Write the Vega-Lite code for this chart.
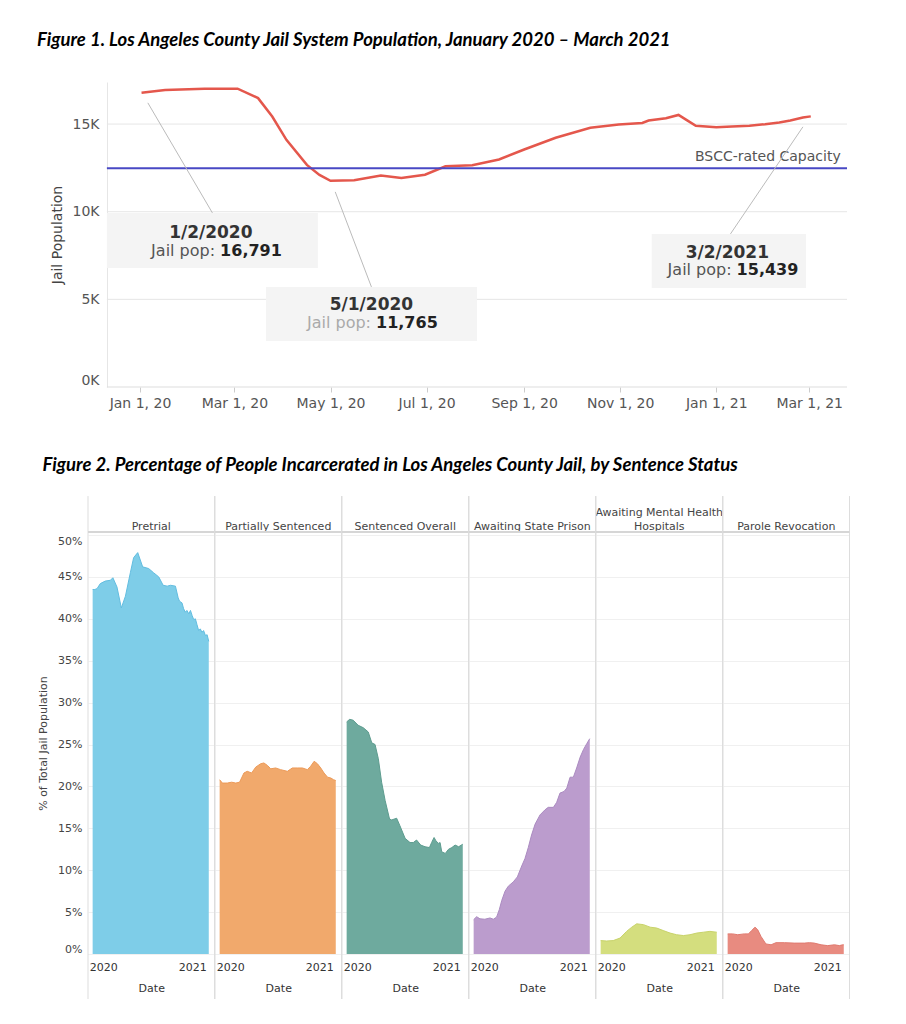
{
  "$schema": "https://vega.github.io/schema/vega-lite/v6.json",
  "padding": {"left": 37, "top": 30, "right": 5, "bottom": 5},
  "columns": 1,
  "align": "none",
  "spacing": 46,
  "config": {"view": {"stroke": null}, "font": "DejaVu Sans"},
  "concat": [
    {
      "width": 759,
      "height": 305,
      "title": {"text": "Figure 1. Los Angeles County Jail System Population, January 2020 – March 2021", "anchor": "start", "frame": "bounds", "dx": -13, "offset": 33, "font": "Lato", "fontSize": 18.5, "fontWeight": "bold", "fontStyle": "italic", "color": "#000000"},
      "layer": [
        {
          "data": {"values": [{"label": "BSCC-rated Capacity", "capacity": 12480}]},
          "layer": [
            {"mark": {"type": "rule", "color": "#e6e6e6", "strokeWidth": 1},
             "encoding": {"x": {"datum": {"year": 2019, "month": 12, "date": 11}, "type": "temporal"}, "x2": {"datum": {"year": 2021, "month": 3, "date": 25}}, "y": {"datum": 5000, "type": "quantitative"}}},
            {"mark": {"type": "rule", "color": "#e6e6e6", "strokeWidth": 1},
             "encoding": {"x": {"datum": {"year": 2019, "month": 12, "date": 11}, "type": "temporal"}, "x2": {"datum": {"year": 2021, "month": 3, "date": 25}}, "y": {"datum": 10000, "type": "quantitative"}}},
            {"mark": {"type": "rule", "color": "#e6e6e6", "strokeWidth": 1},
             "encoding": {"x": {"datum": {"year": 2019, "month": 12, "date": 11}, "type": "temporal"}, "x2": {"datum": {"year": 2021, "month": 3, "date": 25}}, "y": {"datum": 15000, "type": "quantitative"}}},
            {"mark": {"type": "rule", "color": "#dddddd", "strokeWidth": 1},
             "encoding": {"x": {"datum": {"year": 2019, "month": 12, "date": 11}, "type": "temporal"}, "x2": {"datum": {"year": 2021, "month": 3, "date": 25}}, "y": {"datum": 0, "type": "quantitative"}}}
          ]
        },
        {
          "data": {"values": [
            {"date": "2020-01-02", "pop": 16791},
            {"date": "2020-01-17", "pop": 16950},
            {"date": "2020-02-11", "pop": 17010},
            {"date": "2020-03-03", "pop": 17020},
            {"date": "2020-03-16", "pop": 16480},
            {"date": "2020-03-25", "pop": 15430},
            {"date": "2020-04-03", "pop": 14100},
            {"date": "2020-04-16", "pop": 12670},
            {"date": "2020-04-24", "pop": 12100},
            {"date": "2020-05-01", "pop": 11765},
            {"date": "2020-05-16", "pop": 11790},
            {"date": "2020-06-02", "pop": 12060},
            {"date": "2020-06-15", "pop": 11930},
            {"date": "2020-06-30", "pop": 12110},
            {"date": "2020-07-13", "pop": 12590},
            {"date": "2020-07-30", "pop": 12650},
            {"date": "2020-08-16", "pop": 12980},
            {"date": "2020-09-01", "pop": 13550},
            {"date": "2020-09-21", "pop": 14220},
            {"date": "2020-10-13", "pop": 14790},
            {"date": "2020-10-31", "pop": 14980},
            {"date": "2020-11-15", "pop": 15060},
            {"date": "2020-11-19", "pop": 15200},
            {"date": "2020-11-30", "pop": 15330},
            {"date": "2020-12-08", "pop": 15520},
            {"date": "2020-12-13", "pop": 15240},
            {"date": "2020-12-19", "pop": 14900},
            {"date": "2021-01-01", "pop": 14820},
            {"date": "2021-01-11", "pop": 14860},
            {"date": "2021-01-22", "pop": 14900},
            {"date": "2021-02-01", "pop": 14990},
            {"date": "2021-02-10", "pop": 15090},
            {"date": "2021-02-17", "pop": 15200},
            {"date": "2021-02-25", "pop": 15370},
            {"date": "2021-03-02", "pop": 15439}
          ], "format": {"parse": {"date": "date:'%Y-%m-%d'"}}},
          "mark": {"type": "line", "color": "#e4574c", "strokeWidth": 2.5},
          "encoding": {
            "x": {"field": "date", "type": "temporal",
              "scale": {"domain": [{"year": 2019, "month": 11, "date": 29}, {"year": 2021, "month": 3, "date": 25}], "nice": false},
              "axis": {"title": null, "values": [
                {"year": 2020, "month": 1, "date": 1}, {"year": 2020, "month": 3, "date": 1}, {"year": 2020, "month": 5, "date": 1}, {"year": 2020, "month": 7, "date": 1},
                {"year": 2020, "month": 9, "date": 1}, {"year": 2020, "month": 11, "date": 1}, {"year": 2021, "month": 1, "date": 1}, {"year": 2021, "month": 3, "date": 1}],
                "format": "%b %-d, %y", "labelFont": "DejaVu Sans", "labelFontSize": 14, "labelColor": "#555555", "tickColor": "#cccccc", "tickSize": 5, "labelPadding": 4, "domain": false, "grid": false}},
            "y": {"field": "pop", "type": "quantitative",
              "scale": {"domain": [0, 17400], "nice": false},
              "axis": {"title": "Jail Population", "values": [0, 5000, 10000, 15000], "labelExpr": "datum.value / 1000 + 'K'", "offset": -19,
                "labelFont": "DejaVu Sans", "labelFontSize": 14, "labelColor": "#555555", "labelPadding": 8, "labelFlush": true,
                "ticks": false, "domainColor": "#e6e6e6", "grid": false,
                "titleFont": "DejaVu Sans", "titleFontSize": 14, "titleFontWeight": "normal", "titleColor": "#444444", "titlePadding": 8}}
          }
        },
        {
          "data": {"values": [{"label": "BSCC-rated Capacity", "capacity": 12480}]},
          "layer": [
            {"mark": {"type": "rule", "color": "#4848c4", "strokeWidth": 2},
             "encoding": {"x": {"datum": {"year": 2019, "month": 12, "date": 11}, "type": "temporal"}, "x2": {"datum": {"year": 2021, "month": 3, "date": 25}}, "y": {"field": "capacity", "type": "quantitative"}}},
            {"mark": {"type": "text", "align": "right", "baseline": "bottom", "dy": -4, "font": "DejaVu Sans", "fontSize": 14, "color": "#555555"},
             "encoding": {"x": {"datum": {"year": 2021, "month": 3, "date": 21}, "type": "temporal"}, "y": {"field": "capacity", "type": "quantitative"}, "text": {"field": "label"}}}
          ]
        },
        {
          "data": {"values": [{"date": "2020-01-02", "pop": 16791}], "format": {"parse": {"date": "date:'%Y-%m-%d'"}}},
          "layer": [
            {"mark": {"type": "rule", "color": "#bbbbbb", "strokeWidth": 1},
             "encoding": {"x": {"datum": {"year": 2020, "month": 1, "date": 6}, "type": "temporal"}, "y": {"datum": 16211, "type": "quantitative"},
                          "x2": {"datum": {"year": 2020, "month": 2, "date": 16}}, "y2": {"datum": 9932}}},
            {"mark": {"type": "rect", "color": "#f4f4f4"},
             "encoding": {"x": {"datum": {"year": 2019, "month": 12, "date": 11}, "type": "temporal"}, "x2": {"datum": {"year": 2020, "month": 4, "date": 23}},
                          "y": {"datum": 9932, "type": "quantitative"}, "y2": {"datum": 6793}}},
            {"mark": {"type": "text", "font": "DejaVu Sans", "fontSize": 17, "fontWeight": "bold", "color": "#333333", "baseline": "middle"},
             "encoding": {"x": {"datum": {"year": 2020, "month": 2, "date": 15}, "type": "temporal"}, "y": {"datum": 8790, "type": "quantitative"},
                          "text": {"field": "date", "type": "temporal", "format": "%-m/%-d/%Y"}}},
            {"mark": {"type": "text", "font": "DejaVu Sans", "fontSize": 16, "color": "#555555", "align": "right", "baseline": "middle", "dx": -2},
             "encoding": {"x": {"datum": {"year": 2020, "month": 2, "date": 19}, "type": "temporal"}, "y": {"datum": 7763, "type": "quantitative"},
                          "text": {"value": "Jail pop:"}}},
            {"mark": {"type": "text", "font": "DejaVu Sans", "fontSize": 16, "fontWeight": "bold", "color": "#222222", "align": "left", "baseline": "middle", "dx": 3},
             "encoding": {"x": {"datum": {"year": 2020, "month": 2, "date": 19}, "type": "temporal"}, "y": {"datum": 7763, "type": "quantitative"},
                          "text": {"field": "pop", "type": "quantitative", "format": ","}}}
          ]
        },
        {
          "data": {"values": [{"date": "2020-05-01", "pop": 11765}], "format": {"parse": {"date": "date:'%Y-%m-%d'"}}},
          "layer": [
            {"mark": {"type": "rule", "color": "#bbbbbb", "strokeWidth": 1},
             "encoding": {"x": {"datum": {"year": 2020, "month": 5, "date": 4}, "type": "temporal"}, "y": {"datum": 11131, "type": "quantitative"},
                          "x2": {"datum": {"year": 2020, "month": 5, "date": 27}}, "y2": {"datum": 5708}}},
            {"mark": {"type": "rect", "color": "#f4f4f4"},
             "encoding": {"x": {"datum": {"year": 2020, "month": 3, "date": 21}, "type": "temporal"}, "x2": {"datum": {"year": 2020, "month": 8, "date": 2}},
                          "y": {"datum": 5708, "type": "quantitative"}, "y2": {"datum": 2626}}},
            {"mark": {"type": "text", "font": "DejaVu Sans", "fontSize": 17, "fontWeight": "bold", "color": "#333333", "baseline": "middle"},
             "encoding": {"x": {"datum": {"year": 2020, "month": 5, "date": 27}, "type": "temporal"}, "y": {"datum": 4681, "type": "quantitative"},
                          "text": {"field": "date", "type": "temporal", "format": "%-m/%-d/%Y"}}},
            {"mark": {"type": "text", "font": "DejaVu Sans", "fontSize": 16, "color": "#aaaaaa", "align": "right", "baseline": "middle", "dx": -2},
             "encoding": {"x": {"datum": {"year": 2020, "month": 5, "date": 28}, "type": "temporal"}, "y": {"datum": 3653, "type": "quantitative"},
                          "text": {"value": "Jail pop:"}}},
            {"mark": {"type": "text", "font": "DejaVu Sans", "fontSize": 16, "fontWeight": "bold", "color": "#222222", "align": "left", "baseline": "middle", "dx": 3},
             "encoding": {"x": {"datum": {"year": 2020, "month": 5, "date": 28}, "type": "temporal"}, "y": {"datum": 3653, "type": "quantitative"},
                          "text": {"field": "pop", "type": "quantitative", "format": ","}}}
          ]
        },
        {
          "data": {"values": [{"date": "2021-03-02", "pop": 15439}], "format": {"parse": {"date": "date:'%Y-%m-%d'"}}},
          "layer": [
            {"mark": {"type": "rule", "color": "#bbbbbb", "strokeWidth": 1},
             "encoding": {"x": {"datum": {"year": 2021, "month": 2, "date": 25}, "type": "temporal"}, "y": {"datum": 14841, "type": "quantitative"},
                          "x2": {"datum": {"year": 2021, "month": 1, "date": 10}}, "y2": {"datum": 8733}}},
            {"mark": {"type": "rect", "color": "#f4f4f4"},
             "encoding": {"x": {"datum": {"year": 2020, "month": 11, "date": 21}, "type": "temporal"}, "x2": {"datum": {"year": 2021, "month": 2, "date": 27}},
                          "y": {"datum": 8733, "type": "quantitative"}, "y2": {"datum": 5651}}},
            {"mark": {"type": "text", "font": "DejaVu Sans", "fontSize": 17, "fontWeight": "bold", "color": "#333333", "baseline": "middle"},
             "encoding": {"x": {"datum": {"year": 2021, "month": 1, "date": 8}, "type": "temporal"}, "y": {"datum": 7649, "type": "quantitative"},
                          "text": {"field": "date", "type": "temporal", "format": "%-m/%-d/%Y"}}},
            {"mark": {"type": "text", "font": "DejaVu Sans", "fontSize": 16, "color": "#555555", "align": "right", "baseline": "middle", "dx": -2},
             "encoding": {"x": {"datum": {"year": 2021, "month": 1, "date": 12}, "type": "temporal"}, "y": {"datum": 6678, "type": "quantitative"},
                          "text": {"value": "Jail pop:"}}},
            {"mark": {"type": "text", "font": "DejaVu Sans", "fontSize": 16, "fontWeight": "bold", "color": "#222222", "align": "left", "baseline": "middle", "dx": 3},
             "encoding": {"x": {"datum": {"year": 2021, "month": 1, "date": 12}, "type": "temporal"}, "y": {"datum": 6678, "type": "quantitative"},
                          "text": {"field": "pop", "type": "quantitative", "format": ","}}}
          ]
        }
      ]
    },
    {
      "title": {"text": "Figure 2. Percentage of People Incarcerated in Los Angeles County Jail, by Sentence Status", "anchor": "start", "frame": "bounds", "dx": 5, "offset": 21, "font": "Lato", "fontSize": 18.5, "fontWeight": "bold", "fontStyle": "italic", "color": "#000000"},
      "data": {"values": [
        {"status": "Pretrial", "date": "2020-01-02", "pct": 43.5},
        {"status": "Pretrial", "date": "2020-01-10", "pct": 43.5},
        {"status": "Pretrial", "date": "2020-01-18", "pct": 43.6},
        {"status": "Pretrial", "date": "2020-01-30", "pct": 44.2},
        {"status": "Pretrial", "date": "2020-02-17", "pct": 44.5},
        {"status": "Pretrial", "date": "2020-03-07", "pct": 44.6},
        {"status": "Pretrial", "date": "2020-03-16", "pct": 44.9},
        {"status": "Pretrial", "date": "2020-03-31", "pct": 43.8},
        {"status": "Pretrial", "date": "2020-04-16", "pct": 41.3},
        {"status": "Pretrial", "date": "2020-05-01", "pct": 42.7},
        {"status": "Pretrial", "date": "2020-05-19", "pct": 45.5},
        {"status": "Pretrial", "date": "2020-05-31", "pct": 47.3},
        {"status": "Pretrial", "date": "2020-06-15", "pct": 47.9},
        {"status": "Pretrial", "date": "2020-07-03", "pct": 46.2},
        {"status": "Pretrial", "date": "2020-07-25", "pct": 46.0},
        {"status": "Pretrial", "date": "2020-08-12", "pct": 45.5},
        {"status": "Pretrial", "date": "2020-08-31", "pct": 45.0},
        {"status": "Pretrial", "date": "2020-09-16", "pct": 44.0},
        {"status": "Pretrial", "date": "2020-10-01", "pct": 43.9},
        {"status": "Pretrial", "date": "2020-10-13", "pct": 44.0},
        {"status": "Pretrial", "date": "2020-10-31", "pct": 43.9},
        {"status": "Pretrial", "date": "2020-11-10", "pct": 42.5},
        {"status": "Pretrial", "date": "2020-11-15", "pct": 42.1},
        {"status": "Pretrial", "date": "2020-11-24", "pct": 41.9},
        {"status": "Pretrial", "date": "2020-11-30", "pct": 41.2},
        {"status": "Pretrial", "date": "2020-12-06", "pct": 40.8},
        {"status": "Pretrial", "date": "2020-12-12", "pct": 41.0},
        {"status": "Pretrial", "date": "2020-12-19", "pct": 40.6},
        {"status": "Pretrial", "date": "2020-12-25", "pct": 41.0},
        {"status": "Pretrial", "date": "2020-12-31", "pct": 40.4},
        {"status": "Pretrial", "date": "2021-01-06", "pct": 39.9},
        {"status": "Pretrial", "date": "2021-01-12", "pct": 40.0},
        {"status": "Pretrial", "date": "2021-01-18", "pct": 39.3},
        {"status": "Pretrial", "date": "2021-01-24", "pct": 38.6},
        {"status": "Pretrial", "date": "2021-01-30", "pct": 38.8},
        {"status": "Pretrial", "date": "2021-02-05", "pct": 38.4},
        {"status": "Pretrial", "date": "2021-02-11", "pct": 38.6},
        {"status": "Pretrial", "date": "2021-02-18", "pct": 38.0},
        {"status": "Pretrial", "date": "2021-02-24", "pct": 38.1},
        {"status": "Pretrial", "date": "2021-03-02", "pct": 37.3},
        {"status": "Partially Sentenced", "date": "2020-01-02", "pct": 20.8},
        {"status": "Partially Sentenced", "date": "2020-01-12", "pct": 20.4},
        {"status": "Partially Sentenced", "date": "2020-01-30", "pct": 20.4},
        {"status": "Partially Sentenced", "date": "2020-02-15", "pct": 20.5},
        {"status": "Partially Sentenced", "date": "2020-03-01", "pct": 20.4},
        {"status": "Partially Sentenced", "date": "2020-03-15", "pct": 20.5},
        {"status": "Partially Sentenced", "date": "2020-03-31", "pct": 21.6},
        {"status": "Partially Sentenced", "date": "2020-04-12", "pct": 21.8},
        {"status": "Partially Sentenced", "date": "2020-04-28", "pct": 21.6},
        {"status": "Partially Sentenced", "date": "2020-05-13", "pct": 22.3},
        {"status": "Partially Sentenced", "date": "2020-05-31", "pct": 22.7},
        {"status": "Partially Sentenced", "date": "2020-06-12", "pct": 22.8},
        {"status": "Partially Sentenced", "date": "2020-06-25", "pct": 22.5},
        {"status": "Partially Sentenced", "date": "2020-07-07", "pct": 22.1},
        {"status": "Partially Sentenced", "date": "2020-07-25", "pct": 22.2},
        {"status": "Partially Sentenced", "date": "2020-08-12", "pct": 22.0},
        {"status": "Partially Sentenced", "date": "2020-09-06", "pct": 21.8},
        {"status": "Partially Sentenced", "date": "2020-09-24", "pct": 22.2},
        {"status": "Partially Sentenced", "date": "2020-10-12", "pct": 22.2},
        {"status": "Partially Sentenced", "date": "2020-10-31", "pct": 22.2},
        {"status": "Partially Sentenced", "date": "2020-11-18", "pct": 22.0},
        {"status": "Partially Sentenced", "date": "2020-11-30", "pct": 22.4},
        {"status": "Partially Sentenced", "date": "2020-12-13", "pct": 23.0},
        {"status": "Partially Sentenced", "date": "2020-12-25", "pct": 22.7},
        {"status": "Partially Sentenced", "date": "2021-01-06", "pct": 22.2},
        {"status": "Partially Sentenced", "date": "2021-01-18", "pct": 21.6},
        {"status": "Partially Sentenced", "date": "2021-01-31", "pct": 21.1},
        {"status": "Partially Sentenced", "date": "2021-02-12", "pct": 21.0},
        {"status": "Partially Sentenced", "date": "2021-02-22", "pct": 20.8},
        {"status": "Partially Sentenced", "date": "2021-03-02", "pct": 20.7},
        {"status": "Sentenced Overall", "date": "2020-01-02", "pct": 27.7},
        {"status": "Sentenced Overall", "date": "2020-01-13", "pct": 28.0},
        {"status": "Sentenced Overall", "date": "2020-01-26", "pct": 27.9},
        {"status": "Sentenced Overall", "date": "2020-02-13", "pct": 27.3},
        {"status": "Sentenced Overall", "date": "2020-03-03", "pct": 27.0},
        {"status": "Sentenced Overall", "date": "2020-03-21", "pct": 26.5},
        {"status": "Sentenced Overall", "date": "2020-04-03", "pct": 25.2},
        {"status": "Sentenced Overall", "date": "2020-04-15", "pct": 25.0},
        {"status": "Sentenced Overall", "date": "2020-04-27", "pct": 23.3},
        {"status": "Sentenced Overall", "date": "2020-05-09", "pct": 20.5},
        {"status": "Sentenced Overall", "date": "2020-05-22", "pct": 18.3},
        {"status": "Sentenced Overall", "date": "2020-06-07", "pct": 16.1},
        {"status": "Sentenced Overall", "date": "2020-06-15", "pct": 16.0},
        {"status": "Sentenced Overall", "date": "2020-07-03", "pct": 16.2},
        {"status": "Sentenced Overall", "date": "2020-07-15", "pct": 15.3},
        {"status": "Sentenced Overall", "date": "2020-08-03", "pct": 13.8},
        {"status": "Sentenced Overall", "date": "2020-08-21", "pct": 13.3},
        {"status": "Sentenced Overall", "date": "2020-09-02", "pct": 13.3},
        {"status": "Sentenced Overall", "date": "2020-09-14", "pct": 13.6},
        {"status": "Sentenced Overall", "date": "2020-09-29", "pct": 13.0},
        {"status": "Sentenced Overall", "date": "2020-10-15", "pct": 12.8},
        {"status": "Sentenced Overall", "date": "2020-10-31", "pct": 12.7},
        {"status": "Sentenced Overall", "date": "2020-11-08", "pct": 13.3},
        {"status": "Sentenced Overall", "date": "2020-11-17", "pct": 13.9},
        {"status": "Sentenced Overall", "date": "2020-11-24", "pct": 13.5},
        {"status": "Sentenced Overall", "date": "2020-12-03", "pct": 13.2},
        {"status": "Sentenced Overall", "date": "2020-12-09", "pct": 13.3},
        {"status": "Sentenced Overall", "date": "2020-12-15", "pct": 12.2},
        {"status": "Sentenced Overall", "date": "2020-12-28", "pct": 12.0},
        {"status": "Sentenced Overall", "date": "2021-01-09", "pct": 12.5},
        {"status": "Sentenced Overall", "date": "2021-01-21", "pct": 12.7},
        {"status": "Sentenced Overall", "date": "2021-02-02", "pct": 13.0},
        {"status": "Sentenced Overall", "date": "2021-02-15", "pct": 12.8},
        {"status": "Sentenced Overall", "date": "2021-03-02", "pct": 13.1},
        {"status": "Awaiting State Prison", "date": "2020-01-02", "pct": 4.1},
        {"status": "Awaiting State Prison", "date": "2020-01-13", "pct": 4.45},
        {"status": "Awaiting State Prison", "date": "2020-01-25", "pct": 4.2},
        {"status": "Awaiting State Prison", "date": "2020-02-12", "pct": 4.15},
        {"status": "Awaiting State Prison", "date": "2020-03-02", "pct": 4.3},
        {"status": "Awaiting State Prison", "date": "2020-03-14", "pct": 4.15},
        {"status": "Awaiting State Prison", "date": "2020-03-26", "pct": 4.4},
        {"status": "Awaiting State Prison", "date": "2020-04-05", "pct": 5.3},
        {"status": "Awaiting State Prison", "date": "2020-04-14", "pct": 6.4},
        {"status": "Awaiting State Prison", "date": "2020-04-26", "pct": 7.5},
        {"status": "Awaiting State Prison", "date": "2020-05-08", "pct": 8.1},
        {"status": "Awaiting State Prison", "date": "2020-05-26", "pct": 8.6},
        {"status": "Awaiting State Prison", "date": "2020-06-10", "pct": 9.2},
        {"status": "Awaiting State Prison", "date": "2020-06-26", "pct": 10.5},
        {"status": "Awaiting State Prison", "date": "2020-07-08", "pct": 11.4},
        {"status": "Awaiting State Prison", "date": "2020-07-20", "pct": 12.7},
        {"status": "Awaiting State Prison", "date": "2020-08-01", "pct": 14.2},
        {"status": "Awaiting State Prison", "date": "2020-08-14", "pct": 15.5},
        {"status": "Awaiting State Prison", "date": "2020-09-01", "pct": 16.6},
        {"status": "Awaiting State Prison", "date": "2020-09-19", "pct": 17.2},
        {"status": "Awaiting State Prison", "date": "2020-10-01", "pct": 17.5},
        {"status": "Awaiting State Prison", "date": "2020-10-20", "pct": 17.5},
        {"status": "Awaiting State Prison", "date": "2020-11-01", "pct": 18.1},
        {"status": "Awaiting State Prison", "date": "2020-11-13", "pct": 19.2},
        {"status": "Awaiting State Prison", "date": "2020-11-28", "pct": 19.4},
        {"status": "Awaiting State Prison", "date": "2020-12-08", "pct": 19.8},
        {"status": "Awaiting State Prison", "date": "2020-12-20", "pct": 21.1},
        {"status": "Awaiting State Prison", "date": "2021-01-01", "pct": 21.1},
        {"status": "Awaiting State Prison", "date": "2021-01-13", "pct": 22.2},
        {"status": "Awaiting State Prison", "date": "2021-01-26", "pct": 23.5},
        {"status": "Awaiting State Prison", "date": "2021-02-07", "pct": 24.4},
        {"status": "Awaiting State Prison", "date": "2021-02-19", "pct": 25.1},
        {"status": "Awaiting State Prison", "date": "2021-03-02", "pct": 25.7},
        {"status": "Awaiting Mental Health Hospitals", "date": "2020-01-02", "pct": 1.6},
        {"status": "Awaiting Mental Health Hospitals", "date": "2020-01-24", "pct": 1.55},
        {"status": "Awaiting Mental Health Hospitals", "date": "2020-02-17", "pct": 1.6},
        {"status": "Awaiting Mental Health Hospitals", "date": "2020-03-13", "pct": 1.9},
        {"status": "Awaiting Mental Health Hospitals", "date": "2020-04-06", "pct": 2.7},
        {"status": "Awaiting Mental Health Hospitals", "date": "2020-04-25", "pct": 3.2},
        {"status": "Awaiting Mental Health Hospitals", "date": "2020-05-13", "pct": 3.6},
        {"status": "Awaiting Mental Health Hospitals", "date": "2020-06-07", "pct": 3.5},
        {"status": "Awaiting Mental Health Hospitals", "date": "2020-07-01", "pct": 3.2},
        {"status": "Awaiting Mental Health Hospitals", "date": "2020-07-25", "pct": 3.1},
        {"status": "Awaiting Mental Health Hospitals", "date": "2020-08-18", "pct": 2.8},
        {"status": "Awaiting Mental Health Hospitals", "date": "2020-09-12", "pct": 2.5},
        {"status": "Awaiting Mental Health Hospitals", "date": "2020-10-06", "pct": 2.3},
        {"status": "Awaiting Mental Health Hospitals", "date": "2020-10-31", "pct": 2.2},
        {"status": "Awaiting Mental Health Hospitals", "date": "2020-11-24", "pct": 2.3},
        {"status": "Awaiting Mental Health Hospitals", "date": "2020-12-19", "pct": 2.5},
        {"status": "Awaiting Mental Health Hospitals", "date": "2021-01-12", "pct": 2.6},
        {"status": "Awaiting Mental Health Hospitals", "date": "2021-02-05", "pct": 2.7},
        {"status": "Awaiting Mental Health Hospitals", "date": "2021-03-02", "pct": 2.6},
        {"status": "Parole Revocation", "date": "2020-01-02", "pct": 2.4},
        {"status": "Parole Revocation", "date": "2020-01-20", "pct": 2.4},
        {"status": "Parole Revocation", "date": "2020-02-08", "pct": 2.3},
        {"status": "Parole Revocation", "date": "2020-03-03", "pct": 2.4},
        {"status": "Parole Revocation", "date": "2020-03-18", "pct": 2.4},
        {"status": "Parole Revocation", "date": "2020-03-30", "pct": 2.8},
        {"status": "Parole Revocation", "date": "2020-04-11", "pct": 3.2},
        {"status": "Parole Revocation", "date": "2020-04-21", "pct": 2.9},
        {"status": "Parole Revocation", "date": "2020-05-03", "pct": 2.1},
        {"status": "Parole Revocation", "date": "2020-05-21", "pct": 1.2},
        {"status": "Parole Revocation", "date": "2020-06-09", "pct": 1.1},
        {"status": "Parole Revocation", "date": "2020-06-27", "pct": 1.35},
        {"status": "Parole Revocation", "date": "2020-07-28", "pct": 1.35},
        {"status": "Parole Revocation", "date": "2020-09-02", "pct": 1.3},
        {"status": "Parole Revocation", "date": "2020-10-09", "pct": 1.3},
        {"status": "Parole Revocation", "date": "2020-10-27", "pct": 1.35},
        {"status": "Parole Revocation", "date": "2020-11-14", "pct": 1.3},
        {"status": "Parole Revocation", "date": "2020-12-09", "pct": 1.1},
        {"status": "Parole Revocation", "date": "2021-01-02", "pct": 1.0},
        {"status": "Parole Revocation", "date": "2021-01-27", "pct": 1.1},
        {"status": "Parole Revocation", "date": "2021-02-14", "pct": 1.0},
        {"status": "Parole Revocation", "date": "2021-02-26", "pct": 1.1},
        {"status": "Parole Revocation", "date": "2021-03-02", "pct": 1.1}
      ], "format": {"parse": {"date": "date:'%Y-%m-%d'"}}},
      "facet": {
        "column": {
          "field": "status", "type": "nominal",
          "sort": ["Pretrial", "Partially Sentenced", "Sentenced Overall", "Awaiting State Prison", "Awaiting Mental Health Hospitals", "Parole Revocation"],
          "header": {"title": null, "labelFont": "DejaVu Sans", "labelFontSize": 11, "labelColor": "#444444", "labelPadding": -11, "labelBaseline": "bottom", "labelLineHeight": 14,
            "labelExpr": "datum.value == 'Awaiting Mental Health Hospitals' ? ['Awaiting Mental Health', 'Hospitals'] : datum.value"}
        }
      },
      "spacing": 0,
      "bounds": "flush",
      "spec": {
        "width": 126.5,
        "height": 422,
        "layer": [
          {
            "mark": {"type": "area"},
            "encoding": {
              "x": {"field": "date", "type": "temporal",
                "scale": {"domain": [{"year": 2019, "month": 12, "date": 16}, {"year": 2021, "month": 3, "date": 23}], "nice": false},
                "axis": {"title": "Date", "values": [{"year": 2020, "month": 1, "date": 1}, {"year": 2021, "month": 1, "date": 1}], "format": "%Y",
                  "labelFont": "DejaVu Sans", "labelFontSize": 11, "labelColor": "#333333", "ticks": false, "labelPadding": 7,
                  "labelFlush": 6, "labelFlushOffset": 3, "grid": false, "domainColor": "#dddddd",
                  "titleFont": "DejaVu Sans", "titleFontSize": 11, "titleFontWeight": "normal", "titleColor": "#333333", "titlePadding": 10}},
              "y": {"field": "pct", "type": "quantitative",
                "scale": {"domain": [0, 50.36], "nice": false},
                "axis": {"title": "% of Total Jail Population", "values": [0, 5, 10, 15, 20, 25, 30, 35, 40, 45, 50], "labelExpr": "datum.value + '%'",
                  "labelFont": "DejaVu Sans", "labelFontSize": 11, "labelColor": "#444444", "labelPadding": 6, "labelFlush": 4,
                  "ticks": false, "domain": false, "grid": true, "gridColor": "#f0f0f0",
                  "titleFont": "DejaVu Sans", "titleFontSize": 11, "titleFontWeight": "normal", "titleColor": "#444444", "titlePadding": 9}},
              "fill": {"field": "status", "type": "nominal", "legend": null,
                "scale": {"domain": ["Pretrial", "Partially Sentenced", "Sentenced Overall", "Awaiting State Prison", "Awaiting Mental Health Hospitals", "Parole Revocation"],
                          "range": ["#7ecde8", "#f1a96c", "#6eaa9e", "#bb9ccd", "#d4de7e", "#e88b80"]}}
            }
          },
          {
            "mark": {"type": "line", "strokeWidth": 1},
            "encoding": {
              "x": {"field": "date", "type": "temporal"},
              "y": {"field": "pct", "type": "quantitative"},
              "stroke": {"field": "status", "type": "nominal", "legend": null,
                "scale": {"domain": ["Pretrial", "Partially Sentenced", "Sentenced Overall", "Awaiting State Prison", "Awaiting Mental Health Hospitals", "Parole Revocation"],
                          "range": ["#62bde0", "#ec9a58", "#5d9c8f", "#ab8bc1", "#c8d36a", "#e07a6f"]}}
            }
          },
          {
            "transform": [{"aggregate": [{"op": "count", "as": "n"}], "groupby": ["status"]}],
            "mark": {"type": "rule", "color": "#dddddd", "strokeWidth": 1},
            "encoding": {"x": {"datum": {"year": 2019, "month": 12, "date": 16}, "type": "temporal"}, "y": {"datum": -5.37, "type": "quantitative"}, "y2": {"datum": 54.65}}
          },
          {
            "transform": [{"aggregate": [{"op": "count", "as": "n"}], "groupby": ["status"]}],
            "mark": {"type": "rule", "color": "#dddddd", "strokeWidth": 1},
            "encoding": {"x": {"datum": {"year": 2021, "month": 3, "date": 23}, "type": "temporal"}, "y": {"datum": -5.37, "type": "quantitative"}, "y2": {"datum": 54.65}}
          },
          {
            "transform": [{"aggregate": [{"op": "count", "as": "n"}], "groupby": ["status"]}],
            "mark": {"type": "rule", "color": "#d6d6d6", "strokeWidth": 2},
            "encoding": {"x": {"datum": {"year": 2019, "month": 12, "date": 16}, "type": "temporal"}, "x2": {"datum": {"year": 2021, "month": 3, "date": 23}}, "y": {"datum": 50.36, "type": "quantitative"}}
          }
        ]
      }
    }
  ]
}
